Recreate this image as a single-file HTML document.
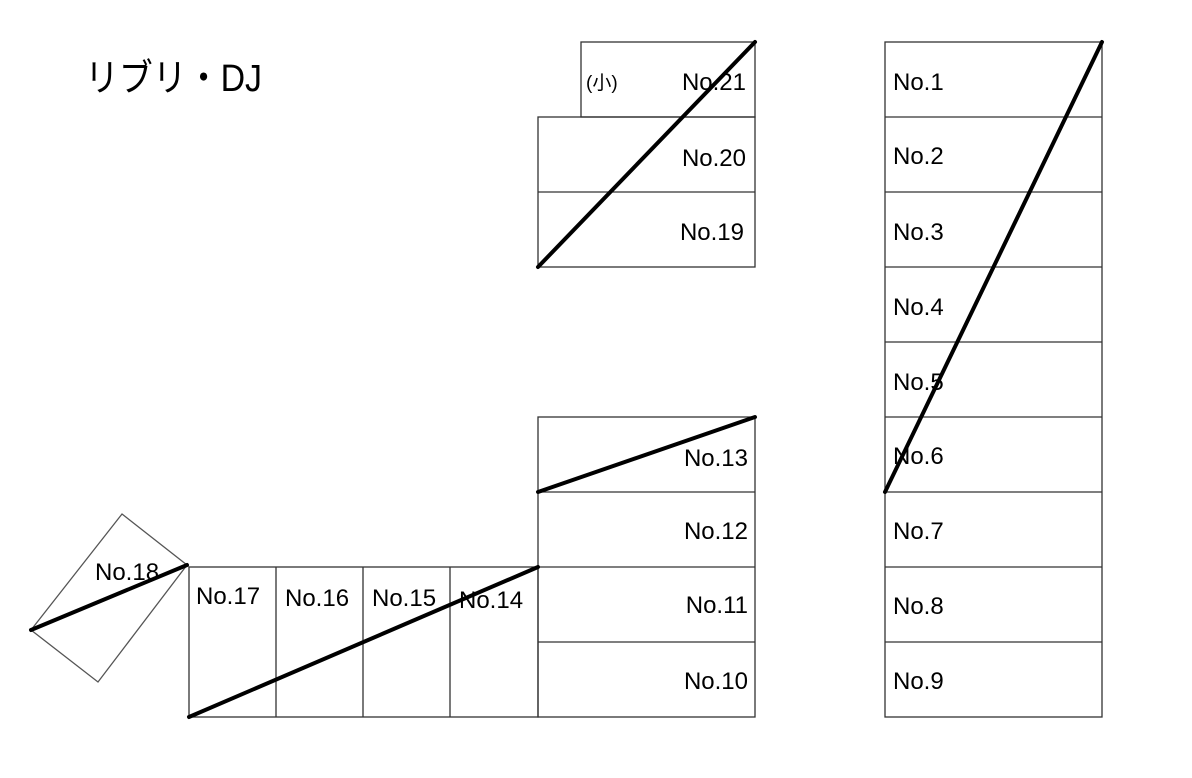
<!DOCTYPE html>
<html><head><meta charset="utf-8"><style>
html,body{margin:0;padding:0;background:#fff;}
svg{display:block;}
text{font-family:"Liberation Sans","Noto Sans CJK JP",sans-serif;font-size:24px;fill:#000;}
</style></head><body>
<svg width="1192" height="778" viewBox="0 0 1192 778" xmlns="http://www.w3.org/2000/svg">
<g fill="none" stroke="#333" stroke-width="1.3">
<rect x="885" y="42" width="217" height="675"/>
<line x1="885" y1="117" x2="1102" y2="117"/>
<line x1="885" y1="192" x2="1102" y2="192"/>
<line x1="885" y1="267" x2="1102" y2="267"/>
<line x1="885" y1="342" x2="1102" y2="342"/>
<line x1="885" y1="417" x2="1102" y2="417"/>
<line x1="885" y1="492" x2="1102" y2="492"/>
<line x1="885" y1="567" x2="1102" y2="567"/>
<line x1="885" y1="642" x2="1102" y2="642"/>
<rect x="581" y="42" width="174" height="75"/>
<rect x="538" y="117" width="217" height="150"/>
<line x1="538" y1="192" x2="755" y2="192"/>
<rect x="538" y="417" width="217" height="300"/>
<line x1="538" y1="492" x2="755" y2="492"/>
<line x1="538" y1="567" x2="755" y2="567"/>
<line x1="538" y1="642" x2="755" y2="642"/>
<rect x="189" y="567" width="349" height="150"/>
<line x1="276" y1="567" x2="276" y2="717"/>
<line x1="363" y1="567" x2="363" y2="717"/>
<line x1="450" y1="567" x2="450" y2="717"/>
<polygon points="122,514 187,565 98,682 31,630" stroke="#555"/>
</g>
<g stroke="#000" stroke-width="4" stroke-linecap="round">
<line x1="538" y1="267" x2="755" y2="42"/>
<line x1="885" y1="492" x2="1102" y2="42"/>
<line x1="538" y1="492" x2="755" y2="417"/>
<line x1="189" y1="717" x2="538" y2="567"/>
<line x1="31" y1="630" x2="187" y2="565"/>
</g>
<text x="85" y="91" style="font-size:38px" textLength="177" lengthAdjust="spacingAndGlyphs">リブリ・DJ</text>
<g>
<text x="893" y="90">No.1</text>
<text x="893" y="164">No.2</text>
<text x="893" y="240">No.3</text>
<text x="893" y="315">No.4</text>
<text x="893" y="390">No.5</text>
<text x="893" y="464">No.6</text>
<text x="893" y="539">No.7</text>
<text x="893" y="614">No.8</text>
<text x="893" y="689">No.9</text>
</g>
<g text-anchor="end">
<text x="746" y="90">No.21</text>
<text x="746" y="166">No.20</text>
<text x="744" y="240">No.19</text>
<text x="748" y="466">No.13</text>
<text x="748" y="539">No.12</text>
<text x="748" y="613">No.11</text>
<text x="748" y="689">No.10</text>
</g>
<text x="586" y="89" style="font-size:19px">(小)</text>
<text x="196" y="604">No.17</text>
<text x="285" y="606">No.16</text>
<text x="372" y="606">No.15</text>
<text x="459" y="608">No.14</text>
<text x="95" y="580">No.18</text>
</svg>
</body></html>
